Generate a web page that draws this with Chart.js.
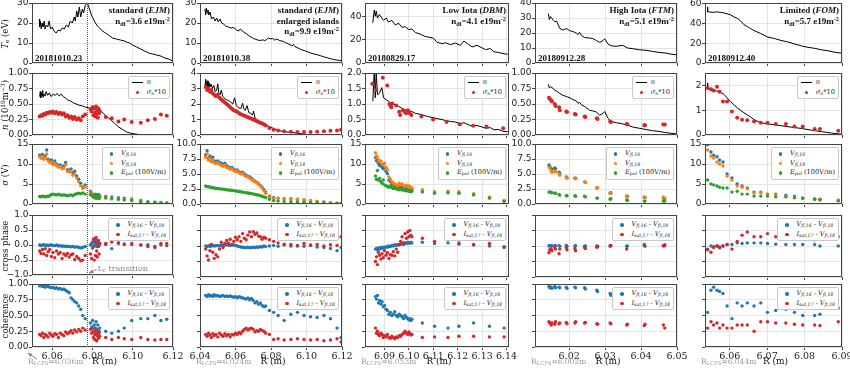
<!DOCTYPE html>
<html><head><meta charset="utf-8">
<script src="https://cdn.jsdelivr.net/npm/chart.js@4.4.1/dist/chart.umd.min.js"></script>
<style>
body{margin:0;background:#fff;}
#fig{position:relative;width:850px;height:368px;overflow:hidden;font-family:"DejaVu Serif",serif;}
canvas{position:absolute;}
.t{position:absolute;white-space:nowrap;color:#111;}
.ttl{font:bold 9px "Liberation Serif",serif;text-align:right;line-height:10.5px;}
.shot{font:bold 9px "Liberation Serif",serif;}
.ylab{font-size:8.5px;transform:translate(-50%,-50%) rotate(-90deg);}
.xlab{font-size:9px;transform:translateX(-50%);}
.lcfs{font-size:7.5px;color:#999;}
.lc{font-size:8px;color:#888;}
.leg{position:absolute;background:#fff;border:1px solid #c8c8c8;border-radius:2px;padding:1px 3px 1px 1px;font:italic 6.6px "DejaVu Serif",serif;line-height:9.5px;color:#222;}
.leg div{white-space:nowrap;}
.leg b{display:inline-block;width:17px;height:9px;vertical-align:top;position:relative;}
.leg b i{position:absolute;}
.leg .n{font-style:normal;}
sub{font-size:70%;vertical-align:-0.25em;line-height:0;}
sup{font-size:70%;vertical-align:0.45em;line-height:0;}
</style></head>
<body><div id="fig"></div>
<script>
// ---- data ----
// col 1 : 20181010.23
const c1_tR = [6.0536,6.0538,6.0542,6.0546,6.0550,6.0555,6.0560,6.0565,6.0570,6.0578,6.0585,6.0592,6.0600,6.0610,6.0620,6.0630,6.0640,6.0650,6.0660,6.0670,6.0680,6.0690,6.0700,6.0710,6.0715,6.0722,6.0728,6.0735,6.0742,6.0750,6.0756,6.0765,6.0775,6.0785,6.0795,6.0805,6.0815,6.0825,6.0835,6.0850,6.0865,6.0880,6.0900,6.0920,6.0940,6.0960,6.0970,6.0985,6.1000,6.1020,6.1040,6.1060,6.1080,6.1100,6.1120,6.1140,6.1160,6.1180,6.1195];
const c1_tT = [22,18,21,17,20,18,21,17,19,18,21,17,18,16,15,16.5,16,17.5,17,19,18,21,20,23,21,26,23,28,23,27,25,29,30,27,24,22,20,18.5,17.5,16,15,14,12.5,12,11.5,11,10.5,10,9,8,7,6,5,4.5,4,3.5,2.5,2,1.2];
const c1_nR = [6.0538,6.0541,6.0544,6.0547,6.0550,6.0553,6.0556,6.0560,6.0565,6.0570,6.0578,6.0586,6.0595,6.0605,6.0615,6.0625,6.0635,6.0645,6.0655,6.0665,6.0675,6.0690,6.0705,6.0720,6.0735,6.0750,6.0765,6.0780,6.0795,6.0810,6.0825,6.0840,6.0855,6.0870,6.0890,6.0910,6.0930,6.0950,6.0970,6.0990,6.1010,6.1030,6.1060,6.1090,6.1120,6.1150,6.1190];
const c1_nV = [0.62,0.70,0.60,0.68,0.63,0.72,0.61,0.66,0.63,0.70,0.64,0.68,0.62,0.66,0.64,0.67,0.63,0.66,0.62,0.60,0.57,0.55,0.52,0.50,0.48,0.47,0.45,0.44,0.42,0.41,0.40,0.39,0.35,0.30,0.25,0.19,0.13,0.09,0.05,0.03,0.02,0.01,0.01,0,0,0,0];
const c1_pR = [6.0538,6.0545,6.0552,6.0559,6.0566,6.0573,6.0580,6.0588,6.0596,6.0604,6.0613,6.0622,6.0631,6.0640,6.0649,6.0658,6.0667,6.0676,6.0685,6.0694,6.0703,6.0712,6.0722,6.0732,6.0742,6.0752,6.0764,
  6.0790,6.0796,6.0801,6.0805,6.0809,6.0812,6.0815,6.0818,6.0821,6.0824,6.0827,6.0830,6.0833,6.0836,
  6.0866,6.0896,6.0929,6.0958,6.0995,6.1040,6.1075,6.1110,6.1140,6.1169];
const c1_sn = [0.30,0.32,0.31,0.34,0.33,0.36,0.35,0.37,0.36,0.38,0.35,0.37,0.34,0.36,0.33,0.35,0.30,0.32,0.28,0.30,0.26,0.29,0.25,0.27,0.24,0.30,0.33,
  0.42,0.38,0.45,0.32,0.44,0.36,0.30,0.46,0.34,0.40,0.28,0.43,0.35,0.39,
  0.29,0.27,0.22,0.25,0.21,0.20,0.24,0.26,0.33,0.31];
const c1_v16 = [12.2,11.8,12.4,11.5,12.0,13.5,11.2,10.8,11.0,10.2,10.8,10.0,9.6,9.8,9.2,9.5,10.4,8.6,8.4,8.8,7.8,8.2,7.0,6.2,5.2,4.2,4.8,
  3.2,2.8,2.4,2.0,2.3,1.8,2.5,2.0,1.6,2.2,1.9,2.4,1.7,2.1,
  1.9,1.8,1.6,1.5,1.3,0.9,0.6,0.5,0.4,0.3];
const c1_v18 = [11.8,11.4,11.9,11.2,11.5,12.5,10.8,10.4,10.5,9.8,10.2,9.6,9.2,9.4,8.8,9.0,9.8,8.2,8.0,8.3,7.2,7.6,6.5,5.6,4.6,3.9,4.2,
  3.0,2.6,2.2,1.8,2.0,1.6,2.2,1.8,1.4,2.0,1.7,2.1,1.5,1.9,
  1.6,1.5,1.3,1.2,1.1,0.7,0.5,0.4,0.3,0.2];
const c1_ep = [1.9,1.8,2.0,1.9,1.8,2.0,1.9,2.1,2.4,2.5,2.4,2.3,2.5,2.3,2.2,2.3,2.2,2.1,2.2,2.3,2.1,2.4,2.6,2.7,2.6,2.8,2.5,
  2.4,2.2,2.0,1.8,2.1,1.6,2.3,1.9,1.5,2.0,1.7,2.2,1.4,1.8,
  1.5,1.3,1.2,1.0,0.9,0.6,0.5,0.4,0.3,0.2];
const c1_phB = [0,-0.02,0,0.01,-0.01,0,-0.02,0,0,-0.01,-0.02,0,-0.03,-0.02,-0.04,-0.03,-0.05,-0.04,-0.05,-0.06,-0.05,-0.07,-0.06,-0.08,-0.1,-0.08,-0.05,
  0,0.05,0.1,-0.05,0.15,0,0.2,0.05,-0.05,0.1,0,0.15,-0.02,0.05,
  0.02,-0.12,0.05,0.04,0.02,0,0.01,-0.05,0,-0.02];
const c1_phR = [-0.2,-0.28,-0.15,-0.3,-0.12,-0.35,-0.22,-0.15,-0.38,-0.25,-0.42,-0.2,-0.3,-0.25,-0.45,-0.3,-0.35,-0.28,-0.4,-0.32,-0.3,-0.48,-0.38,-0.45,-0.52,-0.5,-0.35,
  -0.3,-0.45,-0.1,0.2,-0.5,0.1,-0.35,0.25,-0.2,-0.4,0.15,-0.05,-0.3,0.05,
  0.05,0.1,0.08,0.02,0.05,0,-0.05,-0.08,0.05,0.05];
const c1_coB = [0.97,0.98,0.96,0.97,0.95,0.97,0.96,0.95,0.94,0.95,0.93,0.94,0.92,0.93,0.91,0.92,0.9,0.88,0.86,0.78,0.75,0.72,0.7,0.65,0.6,0.5,0.45,
  0.38,0.32,0.42,0.25,0.35,0.2,0.3,0.4,0.22,0.28,0.35,0.18,0.25,0.3,
  0.25,0.22,0.25,0.3,0.42,0.45,0.45,0.5,0.42,0.44];
const c1_coR = [0.2,0.18,0.22,0.15,0.2,0.18,0.16,0.22,0.19,0.17,0.21,0.2,0.15,0.22,0.2,0.18,0.24,0.21,0.23,0.26,0.22,0.27,0.24,0.28,0.25,0.3,0.27,
  0.28,0.22,0.3,0.15,0.25,0.12,0.2,0.27,0.1,0.18,0.24,0.14,0.22,0.17,
  0.15,0.12,0.15,0.13,0.12,0.15,0.12,0.11,0.12,0.12];

// col 2 : 20181010.38
const c2_tR = [6.0428,6.0432,6.0436,6.0440,6.0445,6.0450,6.0456,6.0465,6.0475,6.0485,6.0494,6.0503,6.0513,6.0522,6.0532,6.0545,6.0560,6.0575,6.0588,6.0600,6.0607,6.0618,6.0626,6.0635,6.0645,6.0655,6.0664,6.0678,6.0692,6.0702,6.0711,6.0725,6.0739,6.0755,6.0765,6.0776,6.0785,6.0795,6.0810,6.0820,6.0833,6.0850,6.0871,6.0880,6.0889,6.0898,6.0908,6.0918,6.0927,6.0935,6.0946,6.0960,6.0974,6.0995,6.1012,6.1025,6.1040,6.1060,6.1078,6.1095,6.1115,6.1135,6.1153,6.1172,6.1200];
const c2_tT = [27,24,27.5,25,26.5,24,25.5,22,23,21,22.5,20.5,22,20,19.5,18.5,18,17.5,17.8,17,16.5,16,17,16.5,15.5,15,14.5,13.5,12.8,12.2,12,11.5,11.3,11.6,11.2,11.8,12.5,12.1,12.3,11.5,12,11.2,10.8,10.2,10,9.5,9.2,8.5,9.3,8.2,7.8,7.2,6.6,6,5.5,5,4.6,4.2,3.7,3.2,2.7,2.2,1.8,1.5,1.2];
const c2_nR = [6.0428,6.0432,6.0436,6.0440,6.0445,6.0450,6.0456,6.0462,6.0470,6.0478,6.0486,6.0494,6.0500,6.0506,6.0513,6.0520,6.0528,6.0535,6.0545,6.0555,6.0565,6.0575,6.0585,6.0595,6.0605,6.0612,6.0620,6.0630,6.0640,6.0648,6.0655,6.0665,6.0675,6.0685,6.0695,6.0702,6.0710,6.0720,6.0735,6.0750,6.0770,6.0790,6.0810,6.0830,6.0850,6.0870,6.0890,6.0910,6.0930,6.0950,6.0980,6.1010,6.1040,6.1080,6.1120,6.1160,6.1200];
const c2_nV = [3.1,3.6,3.0,3.5,2.9,3.4,3.1,3.3,3.0,3.2,2.8,2.9,3.3,2.7,2.6,2.9,2.5,2.4,2.3,2.25,2.2,2.1,2.0,2.4,1.9,1.8,1.75,1.7,2.05,1.65,1.6,1.9,1.45,1.4,1.3,1.55,1.1,1.0,0.9,0.8,0.65,0.55,0.45,0.35,0.28,0.22,0.2,0.18,0.15,0.12,0.07,0.03,0.02,0.01,0,0,0];
const c2_pR = [6.0432,6.0440,6.0448,6.0456,6.0464,6.0472,6.0480,6.0490,6.0500,6.0510,6.0520,6.0530,6.0540,6.0550,6.0560,6.0570,6.0580,6.0590,6.0600,6.0610,6.0620,6.0630,6.0640,6.0650,6.0660,6.0670,6.0680,6.0690,6.0700,6.0710,6.0720,6.0730,6.0740,6.0750,6.0760,6.0770,
  6.0791,6.0815,6.0840,6.0874,6.0912,6.0949,6.0986,6.1023,6.1060,6.1098,6.1135,6.1172,6.1195];
const c2_sn = [3.1,2.9,3.0,2.8,2.9,2.7,2.6,2.5,2.6,2.4,2.3,2.2,2.1,2.0,1.9,1.8,1.7,1.6,1.55,1.5,1.4,1.35,1.3,1.25,1.2,1.15,1.1,1.05,1.0,0.95,0.9,0.85,0.8,0.75,0.7,0.62,
  0.45,0.35,0.3,0.25,0.22,0.2,0.2,0.2,0.22,0.25,0.28,0.3,0.35];
const c2_v16 = [8.2,8.9,7.6,8.0,7.4,7.8,7.2,7.0,7.2,6.9,6.8,6.6,6.8,6.4,6.2,6.0,6.1,5.8,5.6,5.7,5.4,5.2,5.3,5.0,4.8,4.6,4.5,4.3,4.0,3.8,3.6,3.4,3.1,2.8,2.4,2.0,
  1.3,1.1,1.0,0.9,0.9,0.8,0.7,0.55,0.45,0.35,0.25,0.15,0.1];
const c2_v18 = [7.8,8.4,7.3,7.6,7.0,7.4,6.9,6.7,6.9,6.6,6.5,6.3,6.5,6.1,6.0,5.8,5.9,5.6,5.4,5.5,5.2,5.0,5.1,4.8,4.6,4.5,4.3,4.1,3.9,3.7,3.5,3.3,3.0,2.7,2.2,1.8,
  1.2,1.0,0.95,0.9,0.85,0.8,0.7,0.55,0.45,0.35,0.25,0.15,0.1];
const c2_ep = [3.0,2.9,2.9,2.8,2.8,2.7,2.7,2.6,2.6,2.55,2.5,2.5,2.45,2.4,2.35,2.3,2.3,2.25,2.2,2.15,2.1,2.05,2.0,1.95,1.9,1.85,1.8,1.75,1.7,1.6,1.55,1.5,1.4,1.3,1.2,1.1,
  0.8,0.6,0.5,0.45,0.4,0.35,0.3,0.25,0.2,0.15,0.12,0.1,0.05];
const c2_phB = [0,-0.02,0.01,-0.01,0,0.02,0,0.01,0.02,0,0.03,0.02,0.03,0.04,0.03,0.02,0.04,0.03,0.02,0,-0.02,-0.03,-0.04,-0.05,-0.05,-0.04,-0.06,-0.05,-0.04,-0.05,-0.03,-0.04,-0.02,-0.03,0,-0.02,
  0,0.02,-0.01,0.03,0,0.02,-0.01,0.02,-0.03,-0.05,-0.08,-0.15,-0.05];
const c2_phR = [-0.1,-0.32,-0.45,-0.15,0.05,-0.2,-0.4,-0.28,-0.35,-0.1,0.12,-0.05,0.08,0.18,0.1,0.22,0.05,0.15,0.28,0.2,0.3,0.15,0.4,0.25,0.2,0.35,0.45,0.3,0.46,0.38,0.42,0.32,0.3,0.22,0.28,0.25,
  0.2,0.15,0.1,0.06,0.05,0,0.08,0.03,0.05,0,0.04,0.02,0.3];
const c2_coB = [0.82,0.8,0.83,0.81,0.82,0.8,0.83,0.81,0.82,0.8,0.81,0.82,0.8,0.81,0.8,0.81,0.8,0.79,0.8,0.78,0.8,0.79,0.78,0.77,0.76,0.78,0.75,0.77,0.74,0.7,0.72,0.68,0.7,0.66,0.64,0.65,
  0.58,0.55,0.5,0.42,0.52,0.55,0.5,0.48,0.47,0.5,0.45,0.3,0.15];
const c2_coR = [0.2,0.17,0.22,0.19,0.15,0.21,0.18,0.2,0.16,0.22,0.19,0.17,0.21,0.18,0.2,0.16,0.2,0.19,0.22,0.2,0.23,0.21,0.25,0.28,0.3,0.27,0.29,0.3,0.28,0.24,0.26,0.25,0.28,0.26,0.25,0.22,
  0.2,0.12,0.13,0.11,0.12,0.13,0.12,0.11,0.12,0.1,0.11,0.13,0.08];

// col 3 : 20180829.17
const c3_tR = [6.0852,6.0858,6.0862,6.0866,6.0871,6.0879,6.0889,6.0896,6.0907,6.0916,6.0930,6.0944,6.0958,6.0971,6.0985,6.0999,6.1012,6.1026,6.1047,6.1067,6.1081,6.1101,6.1115,6.1136,6.1149,6.1170,6.1190,6.1211,6.1225,6.1245,6.1259,6.1279,6.1300,6.1314,6.1334,6.1348,6.1368,6.1382,6.1398,6.1405];
const c3_tT = [35,46,40.5,45,39,42,39,37,39,35.5,37,33,34.5,31,31.5,29,29.5,26.5,25,23,22.5,21.5,18,16.8,17.6,16,17.3,15.4,19,16,14,15.4,13.1,11.7,12.6,9.8,9.2,8.4,7.8,7.8];
const c3_nV = [1.09,2.1,1.2,2.05,1.3,1.35,1.53,1.2,1.14,1.09,1.0,0.98,0.92,0.87,0.81,0.78,0.76,0.7,0.67,0.62,0.59,0.56,0.53,0.5,0.47,0.44,0.42,0.37,0.4,0.33,0.29,0.31,0.26,0.22,0.24,0.17,0.18,0.13,0.11,0.11];
const c3_snR = [6.0850,6.0867,6.0893,6.0911,6.0920,6.0924,6.0928,6.0932,6.0948,6.0960,6.0964,6.0975,6.0982,6.0989,6.0996,6.1003,6.1010,6.1051,6.1099,6.1154,6.1208,6.1263,6.1318,6.1386];
const c3_sn = [1.65,1.45,1.85,1.6,1.0,0.95,0.9,1.02,0.95,0.75,0.65,0.8,0.75,0.7,0.8,0.7,0.65,0.6,0.5,0.42,0.35,0.3,0.28,0.22];
const c3_pR = [6.0863,6.0867,6.0871,6.0875,6.0880,6.0885,6.0890,6.0895,6.0900,6.0906,6.0912,6.0918,6.0924,6.0930,6.0936,6.0942,6.0948,6.0954,6.0960,6.0966,6.0972,6.0978,6.0984,6.0990,6.0995,6.1000,6.1004,6.1008,6.1012,
  6.1055,6.1105,6.1160,6.1205,6.1265,6.1330,6.1390];
const c3_v16 = [11.6,10.8,11.0,10.2,9.6,9.8,9.2,8.8,9.0,8.2,7.6,6.0,5.6,5.0,4.8,4.6,4.4,4.2,4.6,4.3,4.5,4.2,4.0,4.3,3.9,4.1,3.7,3.9,3.6,
  3.3,2.9,3.0,2.9,2.4,1.6,0.8];
const c3_v18 = [12.8,12.0,11.6,11.0,10.6,10.8,10.0,9.8,10.2,9.2,8.6,6.8,6.2,5.6,5.2,5.0,4.8,4.6,5.2,4.8,5.0,4.6,4.4,4.7,4.3,4.5,4.1,4.3,4.0,
  3.6,3.1,3.2,3.1,2.6,1.7,0.9];
const c3_ep = [7.0,6.2,8.4,6.0,6.4,5.6,5.2,6.0,4.8,4.6,4.4,4.2,4.5,4.1,3.9,4.0,3.8,3.7,3.6,3.8,3.5,3.6,3.4,3.3,3.5,3.2,3.3,3.1,3.2,
  3.0,2.7,2.8,2.7,2.3,1.5,0.7];
const c3_phB = [-0.1,-0.08,-0.12,-0.06,-0.1,-0.05,-0.08,-0.04,-0.06,-0.02,-0.04,0,-0.02,0.02,0,0.04,0.02,0.05,0.03,0.06,0.08,0.05,0.1,0.08,0.12,0.1,0.09,0.12,0.1,
  0.12,0.08,0.1,0.06,0.03,0,-0.05];
const c3_phR = [-0.5,-0.35,-0.6,-0.2,-0.3,-0.42,-0.25,-0.38,-0.15,-0.3,-0.22,-0.4,-0.28,-0.3,-0.18,-0.32,-0.1,-0.2,0.05,0.15,0.3,0.1,0.4,0.25,0.45,0.3,0.5,0.35,0.3,
  0.25,0.15,0.2,0.1,0.05,0.08,-0.02];
const c3_coB = [0.8,0.76,0.82,0.7,0.74,0.68,0.72,0.64,0.66,0.6,0.58,0.52,0.55,0.5,0.52,0.56,0.5,0.48,0.52,0.5,0.48,0.45,0.5,0.47,0.45,0.43,0.45,0.42,0.44,
  0.38,0.33,0.3,0.33,0.38,0.33,0.3];
const c3_coR = [0.3,0.22,0.25,0.2,0.18,0.22,0.2,0.15,0.18,0.16,0.2,0.15,0.14,0.17,0.15,0.13,0.16,0.15,0.18,0.17,0.2,0.22,0.25,0.22,0.2,0.24,0.21,0.19,0.2,
  0.15,0.16,0.15,0.17,0.17,0.16,0.16];

// col 4 : 20180912.28
const c4_tR = [6.0142,6.0145,6.0148,6.0156,6.0160,6.0165,6.0174,6.0183,6.0193,6.0202,6.0211,6.0220,6.0225,6.0229,6.0234,6.0243,6.0257,6.0266,6.0276,6.0285,6.0294,6.0299,6.0308,6.0317,6.0331,6.0349,6.0363,6.0377,6.0395,6.0414,6.0432,6.0450,6.0469,6.0483,6.0497];
const c4_tT = [33,29,31,28.5,27.5,28,23,22,23,21.5,21,20,19,20.5,18.5,17,16.7,16.3,15,13.8,15,16.2,12.7,11.5,11.2,11.8,10,9.6,8.9,8.5,7.8,7.1,6.7,6.0,5.6];
const c4_nV = [0.82,0.76,0.78,0.75,0.72,0.71,0.67,0.64,0.62,0.6,0.57,0.55,0.51,0.53,0.49,0.46,0.4,0.39,0.37,0.32,0.35,0.38,0.27,0.22,0.2,0.18,0.16,0.13,0.11,0.09,0.07,0.06,0.04,0.03,0.02];
const c4_pR = [6.0144,6.0146,6.0150,6.0152,6.0160,6.0162,6.0172,6.0174,6.0192,6.0194,6.0216,6.0218,6.0243,6.0245,6.0277,6.0279,6.0314,6.0316,6.0360,6.0362,6.0409,6.0411,6.0462,6.0466];
const c4_sn = [0.6,0.58,0.56,0.54,0.5,0.47,0.45,0.4,0.38,0.37,0.34,0.33,0.3,0.29,0.27,0.26,0.22,0.21,0.18,0.17,0.16,0.16,0.17,0.17];
const c4_v16 = [6.5,6.3,5.9,5.8,6.0,5.9,5.3,5.1,4.5,4.4,4.3,4.3,3.7,3.6,2.7,2.7,1.8,1.9,1.3,1.3,1.1,1.1,1.0,0.9];
const c4_v18 = [6.2,6.0,5.5,5.3,5.5,5.4,5.0,4.8,4.4,4.3,4.3,4.2,3.7,3.6,2.7,2.7,1.9,1.8,1.3,1.2,1.2,1.1,1.2,1.0];
const c4_ep = [2.0,2.0,2.0,1.9,1.8,1.8,1.6,1.5,1.4,1.4,1.4,1.3,1.3,1.2,1.0,1.0,0.8,0.9,0.7,0.6,0.5,0.5,0.5,0.5];
const c4_phB = [0,0.02,-0.01,0.01,0,0.02,0.01,-0.01,0.02,-0.01,0,0.01,-0.01,0,0,-0.01,0,0.01,-0.01,0,0.02,-0.01,0,0.01];
const c4_phR = [-0.22,-0.12,-0.1,-0.15,-0.05,-0.1,-0.25,-0.1,-0.05,-0.12,-0.08,-0.15,-0.05,-0.08,-0.04,-0.02,0,0.02,-0.1,0.22,0.05,0.25,0.02,0.04];
const c4_coB = [0.96,0.94,0.95,0.93,0.96,0.94,0.95,0.94,0.95,0.93,0.95,0.94,0.94,0.92,0.9,0.88,0.85,0.82,0.85,0.8,0.8,0.78,0.8,0.78];
const c4_coR = [0.4,0.38,0.35,0.38,0.36,0.4,0.37,0.38,0.39,0.37,0.38,0.4,0.38,0.39,0.37,0.36,0.38,0.37,0.35,0.36,0.34,0.36,0.35,0.3];

// col 5 : 20180912.40
const c5_tR = [6.0541,6.0541,6.0545,6.0555,6.0565,6.0575,6.0584,6.0593,6.0602,6.0611,6.0620,6.0629,6.0638,6.0647,6.0656,6.0665,6.0683,6.0701,6.0719,6.0737,6.0755,6.0773,6.0791,6.0809,6.0827,6.0845,6.0863,6.0881,6.0900];
const c5_tT = [57,52,52,51.5,52,51.5,51,50,49,47,45.5,43,39,37,35,33,30,26.5,25,23,21.5,19.5,17.5,16,15,13.5,12.5,11,10];
const c5_nR = [6.0541,6.0541,6.0548,6.0557,6.0566,6.0575,6.0584,6.0593,6.0602,6.0611,6.0620,6.0629,6.0638,6.0651,6.0665,6.0683,6.0701,6.0719,6.0737,6.0764,6.0791,6.0818,6.0845,6.0872,6.0890,6.0900];
const c5_nV = [2.1,1.87,1.85,1.8,1.77,1.72,1.65,1.5,1.35,1.22,1.1,1.0,0.9,0.78,0.62,0.5,0.45,0.42,0.38,0.32,0.27,0.2,0.14,0.08,0.05,0.04];
const c5_pR = [6.0541,6.0550,6.0557,6.0566,6.0573,6.0582,6.0593,6.0606,6.0620,6.0633,6.0647,6.0665,6.0683,6.0701,6.0723,6.0750,6.0773,6.0795,6.0827,6.0841,6.0890];
const c5_sn = [1.9,1.85,1.8,1.95,1.75,1.35,1.35,0.95,0.7,0.62,0.6,0.55,0.5,0.5,0.45,0.45,0.35,0.35,0.25,0.25,0.18];
const c5_v16 = [14.8,13.0,12.2,11.8,11.0,10.5,7.5,6.5,5.0,4.5,4.0,3.0,3.0,2.5,2.5,2.2,2.0,1.5,1.3,1.1,1.0];
const c5_v18 = [13.5,12.0,11.5,10.5,10.0,9.5,7.0,6.0,4.5,4.2,3.8,2.8,2.8,2.3,2.3,2.0,1.8,1.4,1.2,1.0,0.9];
const c5_ep = [6.0,5.0,4.8,4.5,4.2,4.0,4.0,3.0,3.2,2.5,2.5,2.0,2.0,2.0,1.8,1.8,1.6,1.5,1.2,1.2,0.8];
const c5_phB = [-0.1,0,-0.02,0,-0.03,0,0.05,0.05,0.1,0.08,0.1,0.1,0.1,0.08,0.06,0.05,0.05,0.05,0.05,0,0];
const c5_phR = [-0.12,-0.2,-0.05,0,-0.06,0,0.05,-0.1,0.15,0.35,0.45,0.3,0.3,0.4,0.3,0.3,0.35,0.3,0.2,0.25,0.3];
const c5_coB = [0.55,0.9,0.95,0.9,0.88,0.85,0.65,0.45,0.7,0.65,0.7,0.65,0.7,0.55,0.58,0.6,0.55,0.5,0.5,0.52,0.62];
const c5_coR = [0.3,0.4,0.35,0.38,0.3,0.35,0.3,0.3,0.35,0.35,0.35,0.25,0.4,0.4,0.38,0.38,0.36,0.35,0.35,0.34,0.4];

// axes
const xLim = [[6.05,6.12],[6.04,6.12],[6.082,6.141],[6.0105,6.05],[6.0534,6.09]];
const xTicks = [['6.06','6.08','6.10','6.12'],['6.04','6.06','6.08','6.10','6.12'],['6.09','6.10','6.11','6.12','6.13','6.14'],['6.02','6.03','6.04','6.05'],['6.06','6.07','6.08','6.09']];
const yMaxT = [30,30,52,40,61], yMaxN = [1,4,2,1,2.5], yMaxS = [15,10,15,10,15];
const yTicksT = [['0','10','20','30'],['0','10','20','30'],['0','20','40'],['0','10','20','30','40'],['0','20','40','60']];
const yTicksN = [['0.00','0.25','0.50','0.75','1.00'],['0','1','2','3','4'],['0.0','0.5','1.0','1.5','2.0'],['0.00','0.25','0.50','0.75','1.00'],['0','1','2']];
const yTicksS = [['0','5','10','15'],['0.0','2.5','5.0','7.5','10.0'],['0','5','10','15'],['0.0','2.5','5.0','7.5','10.0'],['0','5','10','15']];
const yTicksPh = ['−1.0','−0.5','0.0','0.5','1.0'];
const yTicksCo = ['0.00','0.25','0.50','0.75','1.00'];

const titles = [['standard (<i>EJM</i>)','n<sub>dl</sub>=3.6 e19m<sup>-2</sup>'],
  ['standard (<i>EJM</i>)','enlarged islands','n<sub>dl</sub>=9.9 e19m<sup>-2</sup>'],
  ['Low Iota (<i>DBM</i>)','n<sub>dl</sub>=4.1 e19m<sup>-2</sup>'],
  ['High Iota (<i>FTM</i>)','n<sub>dl</sub>=5.1 e19m<sup>-2</sup>'],
  ['Limited (<i>FOM</i>)','n<sub>dl</sub>=5.7 e19m<sup>-2</sup>']];
const shots = ['20181010.23','20181010.38','20180829.17','20180912.28','20180912.40'];
const rLcfs = ['6.036','6.024','6.053','6.002','6.044'];
const yTitles = ['<i>T</i><sub>e</sub> (eV)','<i>n</i> (10<sup>19</sup>m<sup>−3</sup>)','<i>σ</i> (V)','cross phase','coherence'];
const lcR = 6.0775; // L_c transition in first column

// ---- layout ----
const colX = [[32,173],[200,342],[365,509],[535,677],[705,842]];
const rowY = [[3,65],[73,137],[144,206],[215,277],[284,347]];
const BLUE='#1f77b4', ORANGE='#ff7f0e', GREEN='#2ca02c', RED='#d62728';
const fig = document.getElementById('fig');

const pts = (xs, ys) => xs.map((x, i) => ({x, y: ys[i]}));
const line = (xs, ys) => ({data: pts(xs, ys), showLine: true, borderColor: '#000', borderWidth: 1, pointRadius: 0, tension: 0});
const dots = (xs, ys, col, r) => ({data: pts(xs, ys), showLine: false, pointRadius: r || 1.7, backgroundColor: col, borderColor: col, borderWidth: 0});

const frame = {id: 'frame', afterDatasetsDraw(ch) {
  const a = ch.chartArea, g = ch.ctx;
  g.save(); g.strokeStyle = '#444'; g.lineWidth = 1;
  g.strokeRect(Math.round(a.left) + 0.5, Math.round(a.top) + 0.5, Math.round(a.right - a.left) - 1, Math.round(a.bottom - a.top) - 1);
  g.restore();
}};

function panel(r, c, datasets, yMin, yMax, yLab, showY) {
  const [x0, x1] = colX[c], [y0, y1] = rowY[r];
  const bottom = r === 4, yw = 30, padT = 6, padR = 14, xh = bottom ? 20 : 4;
  const cv = document.createElement('canvas');
  cv.width = yw + (x1 - x0) + padR; cv.height = padT + (y1 - y0) + xh;
  cv.style.left = (x0 - yw) + 'px'; cv.style.top = (y0 - padT) + 'px';
  fig.appendChild(cv);
  const yVals = yLab.map(s => parseFloat(s.replace('−', '-')));
  const grid = {color: '#e4e4e4', lineWidth: 1, tickLength: 3, tickColor: '#444', tickWidth: 1};
  return new Chart(cv, {
    type: 'scatter',
    data: {datasets},
    options: {
      responsive: false, animation: false, events: [],
      layout: {padding: {top: padT, right: padR, left: 0, bottom: 0}},
      plugins: {legend: {display: false}, tooltip: {enabled: false}},
      scales: {
        x: {type: 'linear', min: xLim[c][0], max: xLim[c][1],
          afterBuildTicks: s => { s.ticks = xTicks[c].map(t => ({value: parseFloat(t)})); },
          afterFit: s => { s.height = xh; },
          ticks: {display: bottom, autoSkip: false, maxRotation: 0, padding: 1, color: '#222',
            font: {family: 'DejaVu Serif', size: 9.5}, callback: (v, i) => xTicks[c][i]},
          grid, border: {display: false}},
        y: {type: 'linear', min: yMin, max: yMax,
          afterBuildTicks: s => { s.ticks = yVals.map(v => ({value: v})); },
          afterFit: s => { s.width = yw; },
          ticks: {display: showY, autoSkip: false, padding: 0.5, color: '#222',
            font: {family: 'DejaVu Sans', size: 9}, callback: (v, i) => yLab[i]},
          grid, border: {display: false}}
      }
    },
    plugins: [frame]
  });
}

function txt(html, cls, st) {
  const d = document.createElement('div'); d.className = 't ' + cls; d.innerHTML = html;
  Object.assign(d.style, st); fig.appendChild(d); return d;
}
function legend(r, c, items) {
  const d = document.createElement('div'); d.className = 'leg';
  d.style.right = (850 - colX[c][1] + 3) + 'px'; d.style.top = (rowY[r][0] + 3) + 'px';
  d.innerHTML = items.map(([k, col, h]) => '<div><b>' + (k === 'line'
    ? '<i style="left:2px;width:11px;top:4px;height:1px;background:' + col + '"></i>'
    : '<i style="left:6px;top:3px;width:3.5px;height:3.5px;border-radius:50%;background:' + col + '"></i>') + '</b>' + h + '</div>').join('');
  fig.appendChild(d);
}

const cd = [
  {tR: c1_tR, tT: c1_tT, nR: c1_nR, nV: c1_nV, snR: c1_pR, sn: c1_sn, pR: c1_pR, v16: c1_v16, v18: c1_v18, ep: c1_ep, phB: c1_phB, phR: c1_phR, coB: c1_coB, coR: c1_coR},
  {tR: c2_tR, tT: c2_tT, nR: c2_nR, nV: c2_nV, snR: c2_pR, sn: c2_sn, pR: c2_pR, v16: c2_v16, v18: c2_v18, ep: c2_ep, phB: c2_phB, phR: c2_phR, coB: c2_coB, coR: c2_coR},
  {tR: c3_tR, tT: c3_tT, nR: c3_tR, nV: c3_nV, snR: c3_snR, sn: c3_sn, pR: c3_pR, v16: c3_v16, v18: c3_v18, ep: c3_ep, phB: c3_phB, phR: c3_phR, coB: c3_coB, coR: c3_coR},
  {tR: c4_tR, tT: c4_tT, nR: c4_tR, nV: c4_nV, snR: c4_pR, sn: c4_sn, pR: c4_pR, v16: c4_v16, v18: c4_v18, ep: c4_ep, phB: c4_phB, phR: c4_phR, coB: c4_coB, coR: c4_coR},
  {tR: c5_tR, tT: c5_tT, nR: c5_nR, nV: c5_nV, snR: c5_pR, sn: c5_sn, pR: c5_pR, v16: c5_v16, v18: c5_v18, ep: c5_ep, phB: c5_phB, phR: c5_phR, coB: c5_coB, coR: c5_coR}
];

let lcChart = null;
cd.forEach((d, c) => {
  const ch = panel(0, c, [line(d.tR, d.tT)], 0, yMaxT[c], yTicksT[c], true);
  if (c === 0) lcChart = ch;
  panel(1, c, [dots(d.snR, d.sn, RED, 2), line(d.nR, d.nV)], 0, yMaxN[c], yTicksN[c], true);
  panel(2, c, [dots(d.pR, d.ep, GREEN), dots(d.pR, d.v18, ORANGE), dots(d.pR, d.v16, BLUE)], 0, yMaxS[c], yTicksS[c], true);
  panel(3, c, [dots(d.pR, d.phR, RED), dots(d.pR, d.phB, BLUE)], -1, 1, yTicksPh, c === 0);
  panel(4, c, [dots(d.pR, d.coR, RED), dots(d.pR, d.coB, BLUE)], 0, 1, yTicksCo, c === 0);

  const [x0, x1] = colX[c];
  txt(titles[c].join('<br>'), 'ttl', {right: (850 - x1 + 3) + 'px', top: (rowY[0][0] + 2) + 'px'});
  txt(shots[c], 'shot', {left: (x0 + 3) + 'px', top: (rowY[0][1] - 12) + 'px'});
  legend(1, c, [['line', '#000', '<i>n</i>'], ['dot', RED, 'σ<sub>n</sub><span class="n">*10</span>']]);
  legend(2, c, [['dot', BLUE, 'V<sub>fl,16</sub>'], ['dot', ORANGE, 'V<sub>fl,18</sub>'], ['dot', GREEN, 'E<sub>pol</sub> <span class="n">(100V/m)</span>']]);
  const pair = [['dot', BLUE, 'V<sub>fl,16</sub> <span class="n">-</span> V<sub>fl,18</sub>'], ['dot', RED, 'I<sub>sat,17</sub> <span class="n">-</span> V<sub>fl,18</sub>']];
  legend(3, c, pair); legend(4, c, pair);
  txt('R (m)', 'xlab', {left: ((x0 + x1) / 2 + 2) + 'px', top: '356px'});
  txt('R<sub>LCFS</sub>=' + rLcfs[c] + 'm', 'lcfs', {left: (x0 - 4) + 'px', top: '357px'});
});
yTitles.forEach((h, r) => txt(h, 'ylab', {left: '4.5px', top: ((rowY[r][0] + rowY[r][1]) / 2) + 'px'}));

// L_c transition marker through the first column
const lx = Math.round(lcChart.scales.x.getPixelForValue(lcR) + parseFloat(lcChart.canvas.style.left)) + 0.5;
const vl = document.createElement('div');
Object.assign(vl.style, {position: 'absolute', left: (lx - 0.5) + 'px', top: rowY[0][0] + 'px', height: (rowY[4][1] - rowY[0][0]) + 'px', borderLeft: '1px dotted #555'});
fig.appendChild(vl);
txt('L<sub>c</sub> transition', 'lc', {left: (lx + 10) + 'px', top: (rowY[3][1] - 13) + 'px'});
const x0 = colX[0][0];
fig.insertAdjacentHTML('beforeend',
  '<svg width="850" height="368" style="position:absolute;left:0;top:0;pointer-events:none">' +
  '<defs><marker id="ah" markerWidth="5" markerHeight="4" refX="4.5" refY="2" orient="auto"><path d="M0,0 L5,2 L0,4 z" fill="#888"/></marker></defs>' +
  '<line x1="' + (lx + 9) + '" y1="' + (rowY[3][1] - 7.5) + '" x2="' + (lx + 1.5) + '" y2="' + (rowY[3][1] - 4) + '" stroke="#888" stroke-width="1" marker-end="url(#ah)"/>' +
  '<line x1="' + (x0 + 5) + '" y1="359" x2="' + (x0 - 4) + '" y2="353" stroke="#888" stroke-width="1" marker-end="url(#ah)"/>' +
  '</svg>');
</script>
</body></html>
